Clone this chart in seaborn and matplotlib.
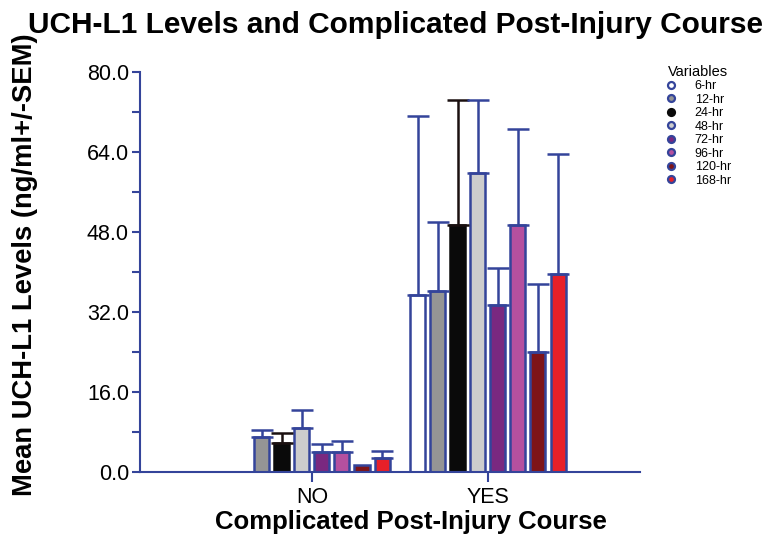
import matplotlib
matplotlib.use("Agg")
import matplotlib.pyplot as plt
from matplotlib.lines import Line2D
from matplotlib.ticker import MultipleLocator, FormatStrFormatter
import numpy as np
import pandas as pd
import seaborn as sns

# Data: mean UCH-L1 level (ng/ml) and SEM per time point and outcome group
groups = ["NO", "YES"]
variables = ["6-hr", "12-hr", "24-hr", "48-hr", "72-hr", "96-hr", "120-hr", "168-hr"]
mean_no = [0.0, 7.0, 5.8, 8.8, 4.0, 4.0, 1.5, 2.8]
sem_no = [0.0, 1.4, 2.0, 3.6, 1.6, 2.2, 0.0, 1.4]
mean_yes = [35.4, 36.3, 49.4, 59.9, 33.4, 49.4, 24.1, 39.7]
sem_yes = [35.8, 13.8, 25.1, 14.5, 7.5, 19.3, 13.6, 23.9]

colors = ["#ffffff", "#959595", "#0a0a0a", "#cdcdcd", "#7a2880", "#b5509f", "#7e1418", "#e82029"]
edge_blue = "#34449a"

df = pd.DataFrame({
    "group": np.repeat(groups, len(variables)),
    "variable": variables * len(groups),
    "mean": mean_no + mean_yes,
    "sem": sem_no + sem_yes,
})

sns.set_style("white")
plt.rcParams["font.family"] = ["Liberation Sans", "DejaVu Sans"]
plt.rcParams["text.color"] = "black"
plt.rcParams["axes.labelcolor"] = "black"
plt.rcParams["xtick.color"] = "black"
plt.rcParams["ytick.color"] = "black"

fig = plt.figure(figsize=(7.64, 5.4), dpi=100)
ax = fig.add_axes([140 / 764, 68 / 540, 500 / 764, 400 / 540])

sns.barplot(data=df, x="group", y="mean", hue="variable", hue_order=variables,
            order=groups, palette=colors, saturation=1, errorbar=None, width=0.91,
            gap=0.25, edgecolor=edge_blue, linewidth=1.8, ax=ax, legend=False)

# Upper SEM whiskers drawn from each bar's own height
for var, container in zip(variables, ax.containers):
    sub = df[df["variable"] == var].set_index("group").loc[groups]
    for bar, (_, row) in zip(container, sub.iterrows()):
        if var == "24-hr":
            bar.set_edgecolor("#0a0a0a")
        if row["sem"] <= 0:
            continue
        cx = bar.get_x() + bar.get_width() / 2
        ecol = "#1a1010" if var == "24-hr" else edge_blue
        ax.errorbar(cx, row["mean"], yerr=[[0], [row["sem"]]], fmt="none",
                    ecolor=ecol, elinewidth=1.8, capsize=8, capthick=1.8, zorder=1)

ax.set_xlim(-0.977, 1.864)
ax.set_ylim(0, 80)
ax.yaxis.set_major_locator(MultipleLocator(16))
ax.yaxis.set_minor_locator(MultipleLocator(8))
ax.yaxis.set_major_formatter(FormatStrFormatter("%.1f"))

for side in ["top", "right"]:
    ax.spines[side].set_visible(False)
for side in ["left", "bottom"]:
    ax.spines[side].set_color(edge_blue)
    ax.spines[side].set_linewidth(1.5)

ax.tick_params(axis="both", which="both", direction="out", color=edge_blue, width=1.5)
ax.tick_params(axis="y", which="major", length=6, labelsize=15.5, left=True, pad=2)
ax.tick_params(axis="y", which="minor", length=6, left=True)
ax.tick_params(axis="x", which="major", length=7, labelsize=15.5, bottom=True)

ax.set_xlabel("Complicated Post-Injury Course", fontsize=18.5, fontweight="bold")
ax.xaxis.set_label_coords((411 - 140) / 500, -38 / 400)
ax.set_ylabel("Mean UCH-L1 Levels (ng/ml+/-SEM)", fontsize=19.7, fontweight="bold")
ax.yaxis.set_label_coords(-(140 - 38) / 500, (472 - 265) / 400)
fig.suptitle("UCH-L1 Levels and Complicated Post-Injury Course", x=0.518, y=0.98,
             fontsize=21.5, fontweight="bold")

handles = [Line2D([], [], linestyle="none", marker="o", markersize=5,
                  markerfacecolor=c, markeredgecolor=edge_blue if c != "#0a0a0a" else "#0a0a0a",
                  markeredgewidth=1.6, label=v)
           for v, c in zip(variables, colors)]
fig.legend(handles=handles, title="Variables", loc="upper left",
           bbox_to_anchor=(656 / 764, 1 - 56 / 540), frameon=False, fontsize=9,
           title_fontsize=10.5, labelspacing=0.12, handletextpad=1.4, handlelength=1.0,
           borderpad=0.2)

fig.savefig("out.png", dpi=100)
